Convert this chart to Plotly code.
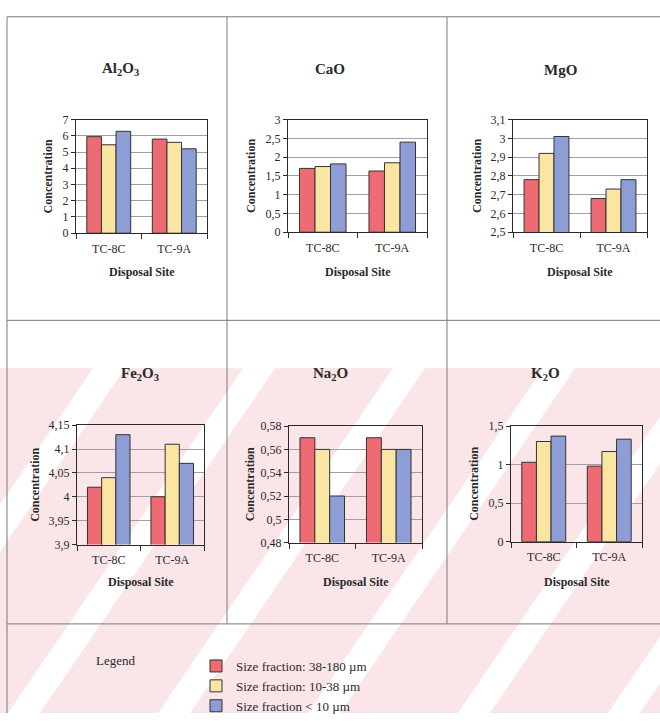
import plotly.graph_objects as go

# ---- data -------------------------------------------------------------
sites = ["TC-8C", "TC-9A"]
fractions = ["Size fraction: 38-180 µm", "Size fraction: 10-38 µm", "Size fraction < 10 µm"]
fraction_colors = ["#ee6b73", "#fbe5a2", "#8e9dd6"]

al2o3_coarse = [5.95, 5.8]
al2o3_medium = [5.45, 5.6]
al2o3_fine = [6.28, 5.2]

cao_coarse = [1.70, 1.63]
cao_medium = [1.75, 1.85]
cao_fine = [1.82, 2.40]

mgo_coarse = [2.78, 2.68]
mgo_medium = [2.92, 2.73]
mgo_fine = [3.01, 2.78]

fe2o3_coarse = [4.02, 4.00]
fe2o3_medium = [4.04, 4.11]
fe2o3_fine = [4.13, 4.07]

na2o_coarse = [0.57, 0.57]
na2o_medium = [0.56, 0.56]
na2o_fine = [0.52, 0.56]

k2o_coarse = [1.03, 0.98]
k2o_medium = [1.30, 1.17]
k2o_fine = [1.37, 1.33]

titles = ["Al<sub>2</sub>O<sub>3</sub>", "CaO", "MgO",
          "Fe<sub>2</sub>O<sub>3</sub>", "Na<sub>2</sub>O", "K<sub>2</sub>O"]
series = [
    [al2o3_coarse, al2o3_medium, al2o3_fine],
    [cao_coarse, cao_medium, cao_fine],
    [mgo_coarse, mgo_medium, mgo_fine],
    [fe2o3_coarse, fe2o3_medium, fe2o3_fine],
    [na2o_coarse, na2o_medium, na2o_fine],
    [k2o_coarse, k2o_medium, k2o_fine],
]
y_ranges = [(0, 7), (0, 3), (2.5, 3.1), (3.9, 4.15), (0.48, 0.58), (0, 1.5)]
y_steps = [1, 0.5, 0.1, 0.05, 0.02, 0.5]

# ---- layout geometry (pixels on a 660 x 721 page) ----------------------
W, H = 660, 721
plot_boxes = [  # left, right, top, bottom
    (76, 207, 115, 231), (288, 427, 115, 230), (513, 647, 115, 230),
    (77, 204, 427, 549), (289, 422, 428, 547), (511, 642, 428, 546),
]
ytitle_x = [48, 251, 477, 35, 250, 474]
title_y = [63, 63, 64, 375, 375, 375]
title_x = [120, 330, 560, 140, 330, 545]
xtitle_y = [271, 271, 271, 587, 587, 587]

SERIF = "Liberation Serif, Times New Roman, serif"
INK = "#2a2a2a"


def px(x):
    return x / W


def py(y):
    return 1 - y / H


def label(text, x, y, size, angle=0, xanchor="center"):
    return dict(text=text, x=px(x), y=py(y), xref="paper", yref="paper",
                xanchor=xanchor, yanchor="middle", showarrow=False, textangle=angle,
                font=dict(family=SERIF, size=size, color=INK))


fig = go.Figure()
layout = {}
annotations = []
shapes = []

# faint diagonal watermark bands across the lower part of the page
wm_top, wm_bottom, slant = 369, 721, 235
for a in range(-560, 700, 150):
    shapes.append(dict(
        type="path", xref="paper", yref="paper", layer="below",
        path=(f"M {px(a)} {py(wm_bottom)} L {px(a + 118)} {py(wm_bottom)} "
              f"L {px(a + 118 + slant)} {py(wm_top)} L {px(a + slant)} {py(wm_top)} Z"),
        fillcolor="#fae5e8", line=dict(width=0),
    ))

for i in range(6):
    n = "" if i == 0 else str(i + 1)
    left, right, top, bottom = plot_boxes[i]
    for k in range(3):
        fig.add_trace(go.Bar(
            x=sites, y=series[i][k], name=fractions[k],
            marker=dict(color=fraction_colors[k], line=dict(color="#333333", width=1)),
            xaxis="x" + n, yaxis="y" + n,
            legendgroup=fractions[k], showlegend=(i == 0),
        ))
    lo, hi = y_ranges[i]
    layout["xaxis" + n] = dict(
        domain=[px(left), px(right)], anchor="y" + n, type="category",
        tickson="boundaries", ticks="outside", ticklen=5, tickcolor=INK,
        ticklabelstandoff=4,
        showline=True, linecolor=INK, linewidth=1, mirror=True,
        tickfont=dict(family=SERIF, size=12, color=INK), showgrid=False,
    )
    layout["yaxis" + n] = dict(
        domain=[py(bottom), py(top)], anchor="x" + n,
        range=[lo, hi], tick0=lo, dtick=y_steps[i],
        ticks="outside", ticklen=4, tickcolor=INK,
        showline=True, linecolor=INK, linewidth=1, mirror=True,
        showgrid=True, gridcolor="#a0a0a0", gridwidth=1, zeroline=False,
        tickfont=dict(family=SERIF, size=12, color=INK),
    )
    annotations.append(label("<b>" + titles[i] + "</b>", title_x[i], title_y[i], 15))
    annotations.append(label("<b>Concentration</b>", ytitle_x[i], (top + bottom) / 2, 12, angle=-90))
    annotations.append(label("<b>Disposal Site</b>", (left + right) / 2, xtitle_y[i], 12))

annotations.append(label("Legend", 94, 667, 13, xanchor="left"))

# table rules framing the six panels and the legend box
rule = dict(color="#7a7a7a", width=1)
for x0, y0, x1, y1 in [(7, 10, 660, 10), (7, 320, 660, 320), (7, 630, 660, 630),
                       (7, 10, 7, 721), (227, 10, 227, 630), (447, 10, 447, 630)]:
    shapes.append(dict(type="line", xref="paper", yref="paper",
                       x0=px(x0), y0=py(y0), x1=px(x1), y1=py(y1), line=rule))

fig.update_layout(
    **layout,
    width=W, height=H, margin=dict(l=0, r=0, t=0, b=0),
    paper_bgcolor="white", plot_bgcolor="rgba(0,0,0,0)",
    barmode="group", bargap=0.33, bargroupgap=0,
    separators=", ",
    annotations=annotations, shapes=shapes,
    legend=dict(x=px(196), y=py(658), xanchor="left", yanchor="top",
                bgcolor="rgba(0,0,0,0)", tracegroupgap=0, itemwidth=30,
                font=dict(family=SERIF, size=13, color=INK)),
)

fig.write_html("out.html")
